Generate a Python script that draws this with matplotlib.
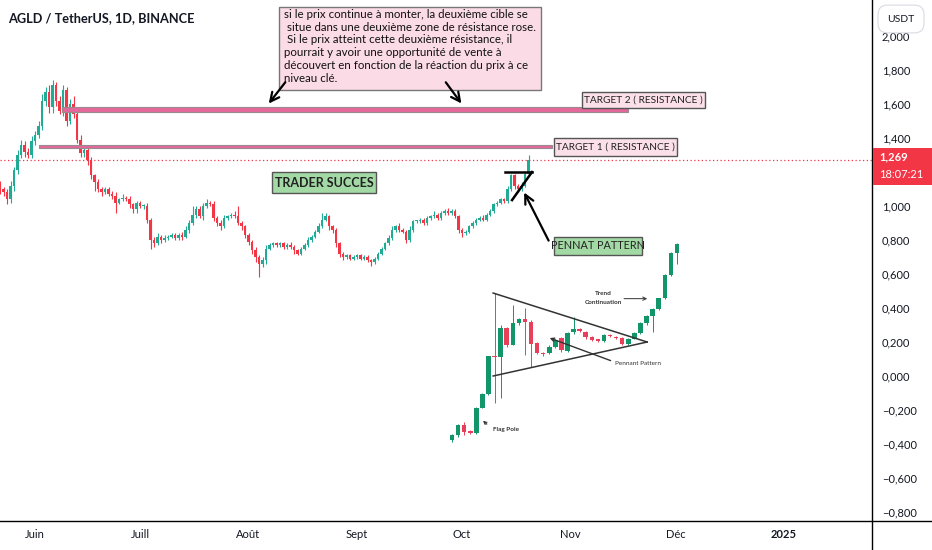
import matplotlib.pyplot as plt
from matplotlib.patches import Rectangle
from matplotlib.lines import Line2D
from matplotlib.ticker import FuncFormatter
import numpy as np

plt.rcParams['font.family'] = ['Lato', 'DejaVu Sans']

W, H = 932, 550
GREEN = '#22ab94'
RED = '#f23645'
INK = '#131722'

# daily AGLD/USDT candles, day 0 = 1 June 2024
first_day = -10
first_open = 1.13
closes = [1.10, 1.08, 1.04, 1.12, 1.21, 1.30, 1.36, 1.32, 1.30, 1.38,
          1.42, 1.47, 1.62, 1.67, 1.58, 1.71, 1.62, 1.56, 1.68, 1.50,
          1.60, 1.54, 1.39, 1.31, 1.33, 1.27, 1.18, 1.14, 1.10, 1.08,
          1.10, 1.07, 1.06, 1.02, 1.04, 1.05, 1.04, 1.01, 0.98, 1.02,
          1.00, 1.00, 0.92, 0.80, 0.78, 0.82, 0.80, 0.81, 0.82, 0.83,
          0.81, 0.83, 0.82, 0.86, 0.90, 0.95, 0.98, 0.94, 1.00, 1.02,
          1.01, 0.93, 0.90, 0.88, 0.93, 0.94, 0.95, 0.94, 0.90, 0.88,
          0.83, 0.79, 0.74, 0.70, 0.66, 0.68, 0.75, 0.77, 0.78, 0.77,
          0.78, 0.76, 0.77, 0.76, 0.74, 0.72, 0.75, 0.77, 0.80, 0.82,
          0.85, 0.88, 0.92, 0.94, 0.88, 0.86, 0.78, 0.72, 0.70, 0.71,
          0.69, 0.70, 0.71, 0.69, 0.70, 0.68, 0.67, 0.69, 0.72, 0.75,
          0.78, 0.81, 0.86, 0.88, 0.86, 0.85, 0.80, 0.86, 0.91, 0.91,
          0.92, 0.90, 0.93, 0.94, 0.95, 0.93, 0.96, 0.97, 0.96, 0.97,
          0.94, 0.86, 0.84, 0.85, 0.88, 0.90, 0.92, 0.93, 0.92, 0.95,
          0.97, 1.01, 1.02, 1.04, 1.03, 1.10, 1.18, 1.12, 1.10, 1.12,
          1.19, 1.269]
# wick lengths in hundredths above/below the body
wick_up = [2, 1, 2, 3, 2, 3, 3, 2, 2, 3,
           2, 3, 4, 3, 4, 3, 2, 3, 3, 2,
           3, 5, 2, 3, 2, 2, 2, 1, 2, 1,
           1, 1, 2, 2, 1, 2, 1, 2, 1, 1,
           1, 1, 2, 1, 2, 2, 1, 2, 1, 1,
           1, 1, 2, 2, 2, 5, 2, 2, 2, 2,
           1, 2, 1, 2, 2, 1, 1, 2, 6, 1,
           1, 1, 1, 2, 1, 2, 2, 1, 1, 1,
           1, 1, 1, 2, 1, 1, 1, 1, 2, 1,
           1, 2, 4, 2, 1, 1, 1, 1, 1, 1,
           1, 1, 1, 1, 1, 1, 1, 1, 1, 1,
           1, 2, 2, 1, 2, 1, 1, 2, 1, 1,
           1, 1, 1, 1, 2, 1, 1, 1, 2, 1,
           1, 1, 1, 1, 1, 1, 1, 1, 2, 1,
           1, 1, 1, 1, 1, 2, 1, 1, 1, 2,
           1, 3]
wick_dn = [3, 2, 3, 2, 3, 2, 2, 3, 2, 2,
           2, 2, 2, 3, 3, 3, 3, 2, 3, 3,
           2, 2, 2, 2, 2, 3, 2, 5, 2, 2,
           1, 1, 2, 6, 1, 1, 1, 2, 2, 2,
           1, 2, 2, 5, 2, 1, 2, 1, 1, 1,
           1, 1, 2, 1, 2, 1, 2, 1, 2, 1,
           1, 2, 2, 2, 1, 1, 1, 1, 1, 2,
           2, 2, 2, 3, 8, 2, 2, 1, 1, 1,
           1, 1, 1, 1, 2, 1, 1, 1, 1, 1,
           1, 1, 1, 1, 2, 2, 2, 2, 2, 1,
           1, 1, 1, 1, 1, 1, 2, 1, 1, 1,
           1, 1, 1, 1, 1, 1, 2, 1, 1, 1,
           1, 1, 1, 1, 1, 1, 1, 1, 1, 1,
           1, 2, 2, 1, 1, 1, 1, 1, 1, 1,
           1, 1, 1, 1, 1, 1, 1, 2, 2, 1,
           1, 1]

month_days = [0, 30, 61, 92, 122, 153, 183, 214]
month_labels = ['Juin', 'Juill', 'Août', 'Sept', 'Oct', 'Nov', 'Déc', '2025']
# 1,200 sits under the last-price tag, so it is not listed
price_ticks = [-0.8, -0.6, -0.4, -0.2, 0.0, 0.2, 0.4, 0.6, 0.8, 1.0, 1.4, 1.6, 1.8, 2.0]
last_price = 1.269
countdown = '18:07:21'

target1 = (1.341, 1.359)
target2 = (1.553, 1.582)

note = ("si le prix continue à monter, la deuxième cible se\n"
        " situe dans une deuxième zone de résistance rose.\n"
        " Si le prix atteint cette deuxième résistance, il\n"
        "pourrait y avoir une opportunité de vente à\n"
        "découvert en fonction de la réaction du prix à ce\n"
        "niveau clé.")

# pasted "pennant pattern" picture, in chart price units
inset_open = [-0.376, -0.347, -0.288, -0.324, -0.335, -0.188, -0.106, 0.120, 0.112, 0.282,
              0.182, 0.312, 0.335, 0.318, 0.194, 0.135, 0.135, 0.171, 0.224, 0.147,
              0.259, 0.276, 0.259, 0.229, 0.218, 0.206, 0.241, 0.229, 0.224, 0.188,
              0.218, 0.253, 0.312, 0.353, 0.394, 0.459, 0.594, 0.724]
inset_close = [-0.347, -0.288, -0.329, -0.335, -0.188, -0.106, 0.118, 0.110, 0.282, 0.182,
               0.312, 0.335, 0.318, 0.188, 0.135, 0.129, 0.171, 0.212, 0.153, 0.253,
               0.276, 0.265, 0.229, 0.212, 0.206, 0.241, 0.235, 0.224, 0.188, 0.218,
               0.253, 0.312, 0.353, 0.394, 0.459, 0.594, 0.724, 0.776]
inset_high = [-0.340, -0.280, -0.270, -0.320, -0.180, -0.100, 0.120, 0.488, 0.300, 0.290,
              0.418, 0.340, 0.400, 0.330, 0.200, 0.140, 0.180, 0.220, 0.230, 0.260,
              0.347, 0.280, 0.265, 0.235, 0.220, 0.245, 0.245, 0.235, 0.230, 0.225,
              0.260, 0.320, 0.360, 0.400, 0.460, 0.600, 0.730, 0.780]
inset_low = [-0.390, -0.360, -0.350, -0.340, -0.340, -0.190, -0.110, -0.159, -0.129, 0.170,
             0.180, 0.300, 0.124, 0.053, 0.130, 0.120, 0.130, 0.165, 0.140, 0.140,
             0.250, 0.260, 0.220, 0.205, 0.200, 0.200, 0.230, 0.220, 0.180, 0.185,
             0.215, 0.250, 0.300, 0.259, 0.390, 0.455, 0.590, 0.660]

fig = plt.figure(figsize=(W / 100, H / 100), dpi=100)
ax = fig.add_axes([0, 29 / H, 872 / W, 521 / H])
ax.set_xlim(-10, 239.14)
ax.set_ylim(-0.853, 2.212)
for s in ax.spines.values():
    s.set_visible(False)


def candles(x, o, c, hi, lo, width, green, red, lw):
    o, c = np.asarray(o), np.asarray(c)
    col = np.where(c >= o, green, red)
    body = np.where(np.abs(c - o) < 0.005, np.where(c >= o, 0.005, -0.005), c - o)
    ax.vlines(x, lo, hi, colors=col, lw=lw, zorder=2)
    ax.bar(x, body, bottom=o, width=width, color=col, zorder=3)


closes = np.array(closes)
days = np.arange(first_day, first_day + len(closes))
opens = np.r_[first_open, closes[:-1]]
highs = np.maximum(opens, closes) + np.array(wick_up) / 100
lows = np.minimum(opens, closes) - np.array(wick_dn) / 100
candles(days, opens, closes, highs, lows, 0.72, GREEN, RED, 0.8)

# last price line
ax.axhline(last_price, color=RED, lw=0.9, ls=(0, (1, 2)), zorder=1)

# resistance zones
for (lo_, hi_), x0, x1 in [(target1, 1.1, 147.7), (target2, 7.7, 169.4)]:
    ax.add_patch(Rectangle((x0, lo_), x1 - x0, hi_ - lo_, fc='#e4699a', ec='#9a8a90', lw=0.8, zorder=4))


def label_box(x0, x1, y0, y1, text, fc, size, weight='normal'):
    ax.add_patch(Rectangle((x0, y0), x1 - x0, y1 - y0, fc=fc, ec='#555555', lw=1.0, zorder=6))
    ax.text((x0 + x1) / 2, (y0 + y1) / 2, text, ha='center', va='center', fontsize=size,
            color='#222222', fontweight=weight, zorder=7)


label_box(156.3, 191.4, 1.576, 1.671, 'TARGET 2 ( RESISTANCE )', '#fbe0ea', 7.3)
label_box(148.3, 183.4, 1.294, 1.400, 'TARGET 1 ( RESISTANCE )', '#fbe0ea', 7.3)
label_box(67.7, 97.4, 1.076, 1.200, 'TRADER SUCCES', '#a3d9a5', 9.0, 'bold')
label_box(148.3, 173.4, 0.712, 0.818, 'PENNAT PATTERN', '#a3d9a5', 7.8)

# note box
ax.add_patch(Rectangle((69.7, 1.682), 144.6 - 69.7, 2.171 - 1.682, fc='#fadbe6', ec='#777777', lw=1.0, zorder=6))
ax.text(71.0, 2.160, note, ha='left', va='top', fontsize=8.3, linespacing=1.2, color='#111111', zorder=7)

arrow = dict(arrowstyle='->', color='black', lw=1.6, mutation_scale=16)
ax.annotate('', xy=(66.3, 1.590), xytext=(72.0, 1.741), arrowprops=arrow, zorder=8)
ax.annotate('', xy=(122.3, 1.590), xytext=(116.9, 1.741), arrowprops=arrow, zorder=8)
ax.annotate('', xy=(139.4, 1.094), xytext=(147.1, 0.782), arrowprops=arrow, zorder=8)

# pennant drawn on the last candles
ax.plot([134.3, 142.0], [1.200, 1.200], color='black', lw=1.8, zorder=5)
ax.plot([136.3, 142.0], [1.035, 1.200], color='black', lw=1.8, zorder=5)

# pasted example picture
inset_x = 119.14 + 1.737 * np.arange(len(inset_open))
candles(inset_x, inset_open, inset_close, inset_high, inset_low, 1.3, '#13956a', '#e8405a', 0.7)
ax.plot([130.9, 174.9], [0.488, 0.200], color='#333333', lw=1.1, zorder=4)
ax.plot([130.9, 174.9], [0.000, 0.200], color='#333333', lw=1.1, zorder=4)
small = dict(fontsize=4.6, color='#333333', zorder=7)
ax.text(162.5, 0.485, 'Trend', ha='center', va='center', fontweight='bold', **small)
ax.text(162.5, 0.430, 'Continuation', ha='center', va='center', fontweight='bold', **small)
ax.annotate('', xy=(175.7, 0.455), xytext=(167.5, 0.455),
            arrowprops=dict(arrowstyle='->', color='#333333', lw=0.7, mutation_scale=6))
ax.text(165.6, 0.076, 'Pennant Pattern', ha='left', va='center', **small)
ax.annotate('', xy=(146.3, 0.229), xytext=(165.2, 0.085),
            arrowprops=dict(arrowstyle='->', color='#333333', lw=1.0, mutation_scale=6))
ax.text(130.8, -0.312, 'Flag Pole', ha='left', va='center', fontweight='bold', **small)
ax.annotate('', xy=(127.4, -0.253), xytext=(129.7, -0.294),
            arrowprops=dict(arrowstyle='->', color='#333333', lw=0.8, mutation_scale=5))

# axes
ax.set_xticks(month_days)
ax.set_xticklabels(month_labels)
ax.set_yticks(price_ticks)
ax.yaxis.set_major_formatter(FuncFormatter(lambda v, p: f'{v:.3f}'.replace('.', ',').replace('-', '−')))
ax.yaxis.tick_right()
ax.tick_params(axis='y', length=0, pad=7, labelsize=8, labelcolor=INK)
ax.tick_params(axis='x', length=0, pad=6, labelsize=8, labelcolor=INK)
ax.get_xticklabels()[-1].set_fontweight('bold')

# frame lines of the price and time scales
fig.add_artist(Line2D([872 / W, 872 / W], [0, 1], transform=fig.transFigure, color='black', lw=1.0))
fig.add_artist(Line2D([0, 1], [29 / H, 29 / H], transform=fig.transFigure, color='black', lw=1.0))

# last price tag
fig.add_artist(Rectangle((873 / W, (H - 185) / H), 59 / W, 37 / H, transform=fig.transFigure,
                         fc=RED, ec='none', zorder=5))
fig.text(879 / W, (H - 157) / H, f'{last_price:.3f}'.replace('.', ','), color='white', fontsize=8,
         fontweight='bold', va='center', zorder=6)
fig.text(879 / W, (H - 175) / H, countdown, color='white', fontsize=8, va='center', zorder=6)
fig.text(901 / W, (H - 19) / H, 'USDT', ha='center', va='center', fontsize=7.5, color=INK, zorder=6,
         bbox=dict(boxstyle='round,pad=0.9', fc='white', ec='#d8dbe2', lw=0.8))

fig.text(8 / W, (H - 18) / H, 'AGLD / TetherUS, 1D, BINANCE', fontsize=9.2, fontweight='bold',
         color=INK, va='center')

fig.savefig('out.png', dpi=100, facecolor='white')
